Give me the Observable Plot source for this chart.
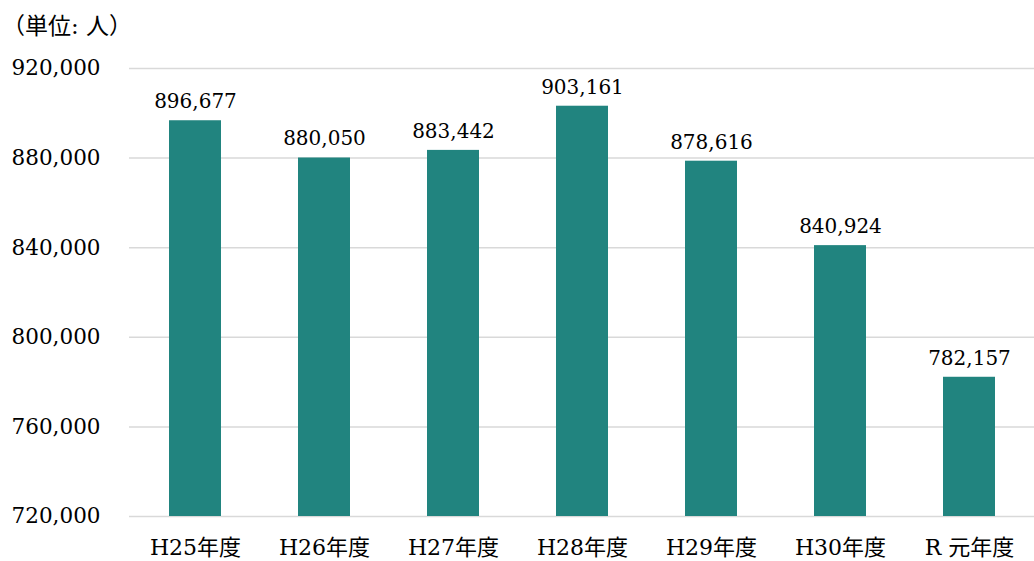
<!DOCTYPE html>
<html>
<head>
<meta charset="utf-8">
<script src="https://cdn.jsdelivr.net/npm/d3@7"></script>
<script src="https://cdn.jsdelivr.net/npm/@observablehq/plot@0.6"></script>
<style>
  body { margin: 0; background: #fff; }
  #wrap { position: relative; width: 1034px; height: 561px; }
  #unit { position: absolute; left: 2px; top: 7px; font-family: "DejaVu Serif", "Liberation Serif", "Noto Sans CJK JP", serif; font-size: 23px; color: #000; }
  svg.plotchart, svg.plotchart text { font-family: "DejaVu Serif", "Liberation Serif", "Noto Sans CJK JP", serif !important; }
</style>
</head>
<body>
<div id="wrap"><div id="unit">（単位: 人）</div></div>
<script>
const years = ["H25年度", "H26年度", "H27年度", "H28年度", "H29年度", "H30年度", "R 元年度"];
const people = [896677, 880050, 883442, 903161, 878616, 840924, 782157];
const yTicks = [720000, 760000, 800000, 840000, 880000, 920000];

const data = years.map((y, i) => ({year: y, value: people[i]}));
const fmt = d3.format(",");

const chart = Plot.plot({
  width: 1034,
  height: 561,
  marginTop: 68,
  marginBottom: 45,
  marginLeft: 129,
  marginRight: 0,
  className: "plotchart",
  style: {fontSize: "20px", color: "#000", background: "#fff"},
  x: {domain: years, paddingInner: 0.6, paddingOuter: 0.3, label: null},
  y: {domain: [720000, 920000], label: null},
  marks: [
    Plot.gridY(yTicks, {stroke: "#d9d9d9", strokeOpacity: 1, strokeWidth: 1.5}),
    Plot.barY(data, {x: "year", y1: 720000, y2: "value", fill: "#21847f"}),
    Plot.text(data, {x: "year", y: "value", text: d => fmt(d.value), dy: -19, fontSize: 20, fill: "#000"}),
    Plot.axisY(yTicks, {tickFormat: fmt, label: null, tickSize: 0, tickPadding: 29, fontSize: 21.5}),
    Plot.axisX({label: null, tickSize: 0, tickPadding: 23, fontSize: 22})
  ]
});
document.getElementById("wrap").appendChild(chart);
</script>
</body>
</html>
